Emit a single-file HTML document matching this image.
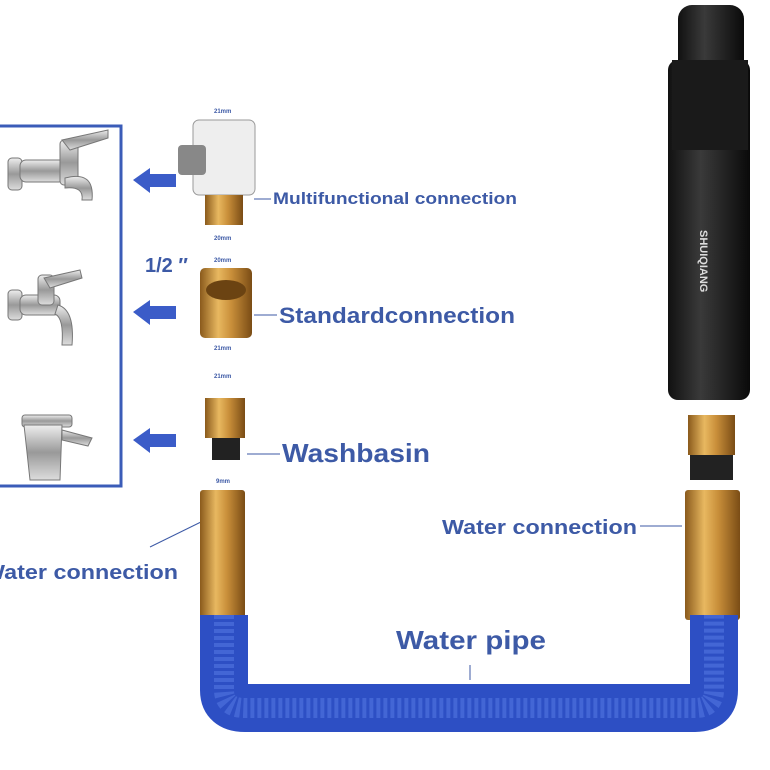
<!DOCTYPE html>
<html><head><meta charset="utf-8"><style>
html,body{margin:0;padding:0;background:#fff;width:770px;height:770px;overflow:hidden}
svg{display:block}
text{font-family:"Liberation Sans",sans-serif;font-weight:bold;fill:#3d5aa6}
</style></head><body>
<svg width="770" height="770" viewBox="0 0 770 770" xmlns="http://www.w3.org/2000/svg">
<defs>
<linearGradient id="brass" x1="0" x2="1" y1="0" y2="0">
<stop offset="0" stop-color="#8a5a1c"/><stop offset="0.35" stop-color="#e8b860"/><stop offset="0.6" stop-color="#c98f3a"/><stop offset="1" stop-color="#7a4c15"/></linearGradient>
<linearGradient id="black" x1="0" x2="1"><stop offset="0" stop-color="#111"/><stop offset="0.4" stop-color="#3a3a3a"/><stop offset="1" stop-color="#0a0a0a"/></linearGradient>
<linearGradient id="chrome" x1="0" x2="0" y1="0" y2="1"><stop offset="0" stop-color="#eee"/><stop offset="0.5" stop-color="#999"/><stop offset="1" stop-color="#ddd"/></linearGradient>
</defs>
<rect width="770" height="770" fill="#fff"/>
<path d="M0 126 H121 V486 H0" fill="none" stroke="#3b5cb8" stroke-width="3"/>
<g fill="url(#chrome)" stroke="#777" stroke-width="1">
<rect x="8" y="158" width="14" height="32" rx="4"/><rect x="20" y="160" width="45" height="22" rx="6"/><rect x="60" y="140" width="18" height="45" rx="4"/><path d="M62 140 L108 130 L108 138 L70 150Z"/><path d="M65 178 Q95 170 92 200 L82 200 Q84 186 65 188Z"/>
<rect x="8" y="290" width="14" height="30" rx="4"/><rect x="20" y="295" width="40" height="20" rx="6"/><rect x="38" y="275" width="16" height="30" rx="4"/><path d="M44 278 L80 270 L82 278 L50 288Z"/><path d="M58 305 Q75 310 72 345 L62 345 Q64 318 55 314Z"/>
<rect x="22" y="415" width="50" height="12" rx="3"/><path d="M24 425 L30 480 L60 480 L62 425Z"/><path d="M62 430 L92 438 L88 446 L62 440Z"/>
</g>
<g fill="#3b5cc8">
<path d="M133 180 L150 168 L150 174 L176 174 L176 187 L150 187 L150 193Z"/>
<path d="M133 312 L150 300 L150 306 L176 306 L176 319 L150 319 L150 325Z"/>
<path d="M133 440 L150 428 L150 434 L176 434 L176 447 L150 447 L150 453Z"/>
</g>
<rect x="193" y="120" width="62" height="75" rx="6" fill="#eee" stroke="#999"/>
<rect x="178" y="145" width="28" height="30" rx="4" fill="#888"/>
<rect x="205" y="195" width="38" height="30" fill="url(#brass)"/>
<rect x="200" y="268" width="52" height="70" rx="5" fill="url(#brass)"/>
<ellipse cx="226" cy="290" rx="20" ry="10" fill="#6b4312"/>
<rect x="205" y="398" width="40" height="40" fill="url(#brass)"/>
<rect x="212" y="438" width="28" height="22" fill="#222"/>
<g font-size="6" style="font-weight:normal"><text x="214" y="113" fill="#333">21mm</text><text x="214" y="240" fill="#333">20mm</text><text x="214" y="262" fill="#333">20mm</text><text x="214" y="350" fill="#333">21mm</text><text x="214" y="378" fill="#333">21mm</text><text x="216" y="483" fill="#333">9mm</text></g>
<text x="273" y="204" font-size="17" textLength="244" lengthAdjust="spacingAndGlyphs">Multifunctional connection</text>
<text x="145" y="272" font-size="20">1/2 ″</text>
<text x="279" y="323" font-size="22" textLength="236" lengthAdjust="spacingAndGlyphs">Standardconnection</text>
<text x="282" y="462" font-size="26" textLength="148" lengthAdjust="spacingAndGlyphs">Washbasin</text>
<text x="442" y="534" font-size="20" textLength="195" lengthAdjust="spacingAndGlyphs">Water connection</text>
<text x="-17" y="579" font-size="20" textLength="195" lengthAdjust="spacingAndGlyphs">Water connection</text>
<text x="396" y="649" font-size="26" textLength="150" lengthAdjust="spacingAndGlyphs">Water pipe</text>
<g stroke="#3d5aa6" stroke-width="1"><line x1="254" y1="199" x2="271" y2="199"/><line x1="254" y1="315" x2="277" y2="315"/><line x1="247" y1="454" x2="280" y2="454"/><line x1="640" y1="526" x2="682" y2="526"/><line x1="150" y1="547" x2="205" y2="520"/><line x1="470" y1="665" x2="470" y2="680"/></g>
<rect x="668" y="60" width="82" height="340" rx="10" fill="url(#black)"/>
<rect x="678" y="5" width="66" height="120" rx="14" fill="url(#black)"/>
<rect x="672" y="60" width="76" height="90" fill="#1a1a1a"/>
<text x="700" y="230" font-size="11" transform="rotate(90 700 230)" style="fill:#ddd">SHUIQIANG</text>
<rect x="688" y="415" width="47" height="40" fill="url(#brass)"/>
<rect x="690" y="455" width="43" height="25" fill="#222"/>
<rect x="200" y="490" width="45" height="130" rx="3" fill="url(#brass)"/>
<rect x="685" y="490" width="55" height="130" rx="3" fill="url(#brass)"/>
<path d="M224 615 V690 Q224 708 245 708 H695 Q714 708 714 690 V615" fill="none" stroke="#2d4fc4" stroke-width="48"/>
<path d="M224 615 V690 Q224 708 245 708 H695 Q714 708 714 690 V615" fill="none" stroke="#5a7ee6" stroke-width="20" stroke-dasharray="4 3" opacity="0.5"/>
</svg>
</body></html>
